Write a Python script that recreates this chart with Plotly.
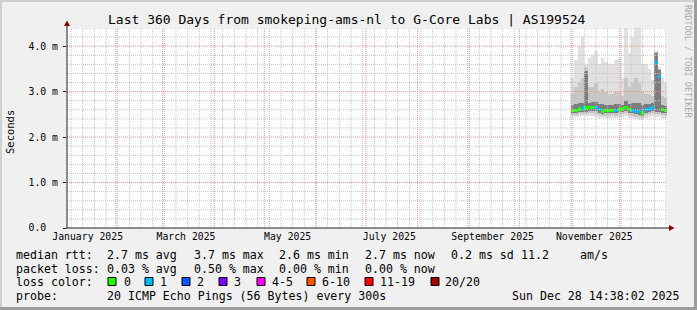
import plotly.graph_objects as go
import pandas as pd

# ---------------- data ----------------
x_start = "2025-01-02 14:38:02"
x_end = "2025-12-28 14:38:02"

# 2-day smoke bins (start of each bin)
bin_start = ["2025-11-01", "2025-11-03", "2025-11-05", "2025-11-07", "2025-11-09",
             "2025-11-11", "2025-11-13", "2025-11-15", "2025-11-17", "2025-11-19",
             "2025-11-21", "2025-11-23", "2025-11-25", "2025-11-27", "2025-11-29",
             "2025-12-01", "2025-12-03", "2025-12-05", "2025-12-07", "2025-12-09",
             "2025-12-11", "2025-12-13", "2025-12-15", "2025-12-17", "2025-12-19",
             "2025-12-21", "2025-12-23", "2025-12-25", "2025-12-27"]

# RTT distribution per bin (ms)
rtt_max = [3.3, 3.7, 4.0, 4.2, 3.6, 3.75, 3.8, 3.9, 3.6, 3.75, 3.65, 3.6, 3.6, 3.7, 3.75,
           3.3, 4.6, 3.85, 4.2, 4.6, 4.4, 3.6, 3.6, 3.5, 3.25, 3.9, 3.55, 3.3, 3.2]
rtt_p90 = [2.95, 3.1, 3.2, 3.3, 3.55, 3.1, 3.1, 3.2, 3.0, 3.05, 3.0, 2.95, 2.95, 3.0, 3.0,
           2.9, 3.3, 3.1, 3.2, 3.3, 3.2, 3.0, 2.95, 2.95, 2.9, 3.88, 3.5, 2.9, 2.85]
rtt_p75 = [2.70, 2.72, 2.76, 2.76, 3.45, 2.76, 2.78, 2.78, 2.72, 2.72, 2.70, 2.70, 2.70, 2.72, 2.72,
           2.70, 2.80, 2.72, 2.74, 2.76, 2.74, 2.70, 2.72, 2.72, 2.74, 3.86, 3.48, 2.70, 2.68]
rtt_median = [2.59, 2.59, 2.62, 2.64, 2.64, 2.66, 2.66, 2.65, 2.60, 2.57, 2.58, 2.58, 2.59, 2.58, 2.61,
              2.62, 2.66, 2.60, 2.58, 2.57, 2.56, 2.53, 2.60, 2.62, 2.66, 3.65, 3.33, 2.60, 2.59]
rtt_p25 = [2.53, 2.53, 2.55, 2.56, 2.56, 2.58, 2.58, 2.57, 2.54, 2.51, 2.52, 2.52, 2.53, 2.52, 2.55,
           2.56, 2.58, 2.54, 2.52, 2.50, 2.49, 2.47, 2.53, 2.55, 2.58, 2.56, 2.55, 2.53, 2.52]
rtt_p10 = [2.49, 2.49, 2.50, 2.51, 2.51, 2.52, 2.52, 2.51, 2.49, 2.46, 2.47, 2.47, 2.48, 2.47, 2.50,
           2.50, 2.52, 2.49, 2.47, 2.45, 2.44, 2.42, 2.48, 2.50, 2.52, 2.50, 2.50, 2.48, 2.47]
rtt_min = [2.44, 2.44, 2.45, 2.46, 2.46, 2.47, 2.47, 2.45, 2.43, 2.41, 2.42, 2.42, 2.43, 2.42, 2.45,
           2.45, 2.47, 2.43, 2.42, 2.40, 2.38, 2.37, 2.43, 2.45, 2.47, 2.44, 2.44, 2.43, 2.42]
# loss class per bin (index into loss_labels)
loss_class = [0, 0, 0, 1, 0, 0, 0, 1, 1, 0, 0, 0, 0, 1, 0,
              0, 0, 0, 1, 1, 1, 0, 1, 1, 1, 1, 1, 0, 0]

loss_labels = ["0", "1", "2", "3", "4-5", "6-10", "11-19", "20/20"]
loss_colors = ["#26ff00", "#00b8ff", "#0059ff", "#7e00ff", "#ff00ff", "#ff5500", "#ff0000", "#a10000"]

y_tickvals = [0, 1, 2, 3, 4]
y_ticktext = ["0.0\u00a0\u00a0", "1.0 m", "2.0 m", "3.0 m", "4.0 m"]
x_label_dates = ["2025-01-15", "2025-03-15", "2025-05-15", "2025-07-15", "2025-09-15", "2025-11-15"]
x_label_text = ["January 2025", "March 2025", "May 2025", "July 2025", "September 2025", "November 2025"]

title_text = "Last 360 Days from smokeping-ams-nl to G-Core Labs | AS199524"
rtt_stats = ["2.7 ms avg", "3.7 ms max", "2.6 ms min", "2.7 ms now", "0.2 ms sd", "11.2", "am/s"]
loss_stats = ["0.03 % avg", "0.50 % max", "0.00 % min", "0.00 % now"]
probe_text = "20 ICMP Echo Pings (56 Bytes) every 300s"
stamp_text = "Sun Dec 28 14:38:02 2025"

# ---------------- layout helpers ----------------
W, H = 697, 310
L, R, T, B = 67, 667, 28, 228
MONO = "DejaVu Sans Mono"


def px(x):
    return (x - L) / (R - L)


def py(y):
    return (B - y) / (B - T)


BIN_MS = 2 * 86400000

fig = go.Figure()

band_specs = [(rtt_min, rtt_max, "#e0e0e0"),
              (rtt_p10, rtt_p90, "#c6c6c6"),
              (rtt_p25, rtt_p75, "#7c7c7c")]
for lo, hi, col in band_specs:
    fig.add_trace(go.Bar(x=bin_start, base=lo, y=[h - l for l, h in zip(lo, hi)],
                         width=BIN_MS, offset=0, marker=dict(color=col, line=dict(width=0)),
                         hoverinfo="skip"))

med_h = 0.07
fig.add_trace(go.Bar(x=bin_start, base=[m - med_h / 2 for m in rtt_median], y=[med_h] * len(rtt_median),
                     width=BIN_MS, offset=0,
                     marker=dict(color=[loss_colors[c] for c in loss_class], line=dict(width=0)),
                     hoverinfo="skip"))

# invisible trace to carry the label axis
fig.add_trace(go.Scatter(x=[x_start], y=[0], xaxis="x2", mode="markers",
                         marker=dict(opacity=0), hoverinfo="skip"))

shapes = []
minor_col = "#c4c4c4"
major_col = "#f09090"
dash = "1px,1px"
for d in pd.date_range("2025-01-05", "2025-12-28", freq="7D"):
    shapes.append(dict(type="line", xref="x", yref="paper", x0=d, x1=d, y0=0, y1=1,
                       line=dict(color=minor_col, width=1, dash=dash), layer="above"))
for i in range(1, 23):
    v = round(i * 0.2, 2)
    if abs(v - round(v)) < 1e-6:
        continue
    shapes.append(dict(type="line", xref="paper", yref="y", x0=0, x1=1, y0=v, y1=v,
                       line=dict(color=minor_col, width=1, dash=dash), layer="above"))
for d in pd.date_range("2025-02-01", "2025-12-01", freq="MS"):
    shapes.append(dict(type="line", xref="x", yref="paper", x0=d, x1=d, y0=0, y1=1,
                       line=dict(color=major_col, width=1, dash=dash), layer="above"))
for v in y_tickvals[1:]:
    shapes.append(dict(type="line", xref="paper", yref="y", x0=0, x1=1, y0=v, y1=v,
                       line=dict(color=major_col, width=1, dash=dash), layer="above"))

axis_col = "#202020"
arrow_col = "#8b0000"
# axes lines
shapes.append(dict(type="line", xref="paper", yref="paper", x0=px(66.5), x1=px(669.5), y0=py(228), y1=py(228),
                   line=dict(color=axis_col, width=1), layer="above"))
shapes.append(dict(type="line", xref="paper", yref="paper", x0=px(67), x1=px(67), y0=py(228.5), y1=py(25),
                   line=dict(color=axis_col, width=1), layer="above"))
# arrows
shapes.append(dict(type="path", xref="paper", yref="paper",
                   path=f"M {px(64)} {py(26)} L {px(70)} {py(26)} L {px(67)} {py(20.5)} Z",
                   fillcolor=arrow_col, line=dict(width=0), layer="above"))
shapes.append(dict(type="path", xref="paper", yref="paper",
                   path=f"M {px(669)} {py(225)} L {px(669)} {py(231)} L {px(674.5)} {py(228)} Z",
                   fillcolor=arrow_col, line=dict(width=0), layer="above"))
# frame
shapes.append(dict(type="rect", xref="paper", yref="paper", x0=px(0), x1=px(W), y0=py(0), y1=py(2),
                   fillcolor="#d0d0d0", line=dict(width=0), layer="above"))
shapes.append(dict(type="rect", xref="paper", yref="paper", x0=px(0), x1=px(2), y0=py(0), y1=py(H),
                   fillcolor="#d0d0d0", line=dict(width=0), layer="above"))
shapes.append(dict(type="rect", xref="paper", yref="paper", x0=px(W - 3), x1=px(W), y0=py(0), y1=py(H),
                   fillcolor="#9c9c9c", line=dict(width=0), layer="above"))
shapes.append(dict(type="rect", xref="paper", yref="paper", x0=px(0), x1=px(W), y0=py(H - 3), y1=py(H),
                   fillcolor="#9c9c9c", line=dict(width=0), layer="above"))

# legend color boxes
box_x = [108, 145, 182, 219, 257, 307, 365, 431]
text_x = [124, 160, 197, 234, 272, 322, 380, 445]
for bx, col in zip(box_x, loss_colors):
    shapes.append(dict(type="rect", xref="paper", yref="paper", x0=px(bx), x1=px(bx + 8),
                       y0=py(277.5), y1=py(285.5), fillcolor=col, line=dict(color="#000", width=1),
                       layer="above"))

ann = []


def txt(x, y, s, size=11.6, anchor="left", color="#000", angle=0, yanchor="middle"):
    ann.append(dict(x=px(x), y=py(y), xref="paper", yref="paper", text=s, showarrow=False,
                    xanchor=anchor, yanchor=yanchor, textangle=angle, borderpad=0, borderwidth=0,
                    font=dict(family=MONO, size=size, color=color)))


txt(347, 19, title_text, size=13, anchor="center")
txt(10, 132, "Seconds", size=10.5, anchor="center", angle=-90)
txt(688, 61, "RRDTOOL / TOBI OETIKER", size=8.5, anchor="center", color="#a8a8a8", angle=90)

row_y = [254.5, 268.5, 282, 296]
txt(16, row_y[0], "median rtt:")
for xx, s in zip([107, 193.5, 279, 365, 451, 521, 580], rtt_stats):
    txt(xx, row_y[0], s)
txt(16, row_y[1], "packet loss:")
for xx, s in zip([107, 193.5, 279, 365], loss_stats):
    txt(xx, row_y[1], s)
txt(16, row_y[2], "loss color:")
for xx, s in zip(text_x, loss_labels):
    txt(xx, row_y[2], s)
txt(16, row_y[3], "probe:")
txt(107, row_y[3], probe_text)
txt(680, row_y[3], stamp_text, anchor="right")

fig.update_layout(
    width=W, height=H,
    margin=dict(l=L, r=W - R, t=T, b=H - B, pad=0),
    paper_bgcolor="#f0f0f0", plot_bgcolor="#ffffff",
    showlegend=False, barmode="overlay", bargap=0,
    font=dict(family=MONO, color="#000"),
    shapes=shapes, annotations=ann,
    xaxis=dict(type="date", range=[x_start, x_end], showgrid=False, zeroline=False,
               showline=False, showticklabels=False, ticks="", fixedrange=True),
    xaxis2=dict(type="date", range=[x_start, x_end], overlaying="x", anchor="y", side="bottom",
                tickvals=x_label_dates, ticktext=x_label_text, showgrid=False, zeroline=False,
                showline=False, ticks="", tickfont=dict(family=MONO, size=9.8, color="#000"),
                ticklabelstandoff=1, fixedrange=True),
    yaxis=dict(range=[0, 4.4], tickvals=y_tickvals, ticktext=y_ticktext, showgrid=False,
               zeroline=False, showline=False, ticks="outside", ticklen=3, tickcolor=axis_col,
               tickfont=dict(family=MONO, size=9.8, color="#000"), ticklabelstandoff=3,
               fixedrange=True),
)

fig.write_html("out.html")
